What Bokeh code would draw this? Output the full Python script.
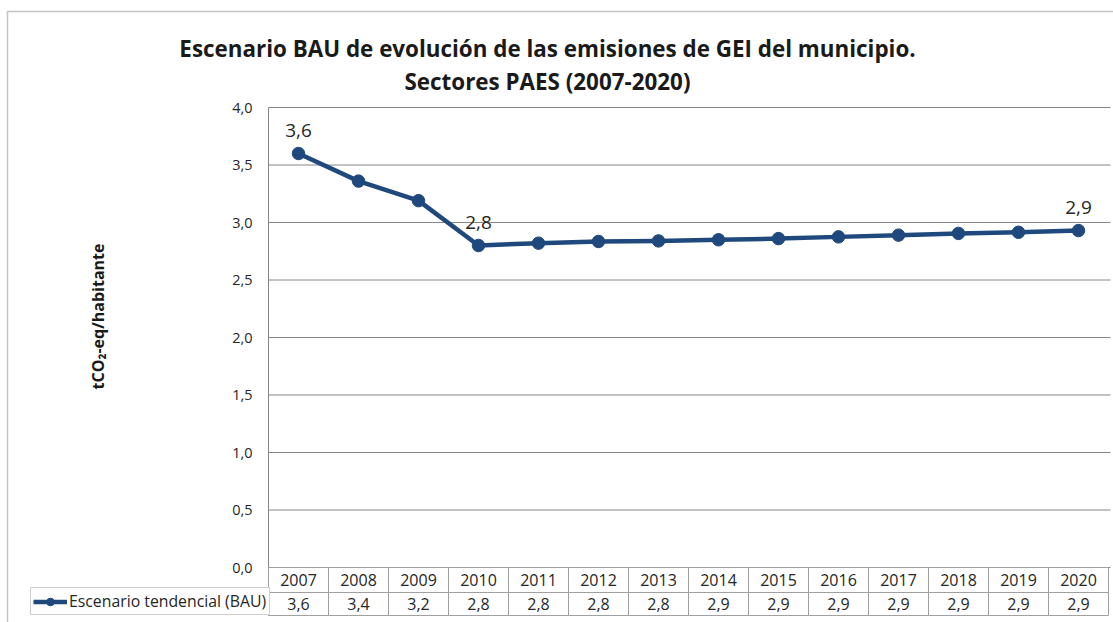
import math
from bokeh.plotting import figure
from bokeh.models import Range1d, Legend, LegendItem, PolyAnnotation
from bokeh.core.properties import value
from bokeh.embed import file_html
from bokeh.resources import INLINE

# ---------------- data ----------------
years = ["2007", "2008", "2009", "2010", "2011", "2012", "2013",
         "2014", "2015", "2016", "2017", "2018", "2019", "2020"]
bau = [3.60, 3.36, 3.19, 2.80, 2.82, 2.835, 2.84,
       2.85, 2.86, 2.875, 2.89, 2.905, 2.915, 2.93]
table_values = ["3,6", "3,4", "3,2", "2,8", "2,8", "2,8", "2,8",
                "2,9", "2,9", "2,9", "2,9", "2,9", "2,9", "2,9"]
point_labels = ["3,6", "", "", "2,8", "", "", "",
                "", "", "", "", "", "", "2,9"]
y_ticks = [0.0, 0.5, 1.0, 1.5, 2.0, 2.5, 3.0, 3.5, 4.0]
y_tick_labels = ["0,0", "0,5", "1,0", "1,5", "2,0", "2,5", "3,0", "3,5", "4,0"]
series_name = "Escenario tendencial (BAU)"
title_lines = ["Escenario BAU de evolución de las emisiones de GEI del municipio.",
               "Sectores PAES (2007-2020)"]
y_title = "tCO₂-eq/habitante"

# ---------------- style / layout ----------------
FONT = "Open Sans"
NAVY = "#1F497D"
GRID = "#868686"
CELL = "#a0a0a0"
TXT = "#262626"

W, H = 1113, 622
PX_X = 60.0      # pixels per category
PX_Y = 115.0     # pixels per y unit
LEFT = 268       # canvas x of the value axis
ZERO = 567       # canvas y of value 0
X0, X1 = -LEFT / PX_X, (W - LEFT) / PX_X
Y0, Y1 = -(H - ZERO) / PX_Y, ZERO / PX_Y

ROW_H = 25 / PX_Y          # year row height
ROW2_H = 23 / PX_Y         # value row height
n = len(years)
xs = [i + 0.5 for i in range(n)]
year_row_y = [-ROW_H / 2] * n
val_row_y = [-ROW_H - ROW2_H / 2] * n
GRID_END = (1110 - LEFT) / PX_X

p = figure(width=W, height=H, output_backend="svg", toolbar_location=None,
           x_range=Range1d(X0, X1), y_range=Range1d(Y0, Y1),
           x_axis_location=None, y_axis_location=None, title=None,
           min_border=0, outline_line_color=None,
           background_fill_color="white", border_fill_color="white")
p.xgrid.visible = False
p.ygrid.visible = False

# value axis: gridlines, axis line, tick labels
p.segment(x0=[0] * len(y_ticks), y0=y_ticks, x1=[GRID_END] * len(y_ticks), y1=y_ticks,
          line_color=GRID, line_width=1)
p.segment(x0=[0], y0=[y_ticks[-1]], x1=[0], y1=[-ROW_H - ROW2_H],
          line_color=GRID, line_width=1)
p.text([0] * len(y_ticks), y_ticks, text=y_tick_labels, x_offset=-16,
       text_align="right", text_baseline="middle", text_font=value(FONT),
       text_font_size="14.5px", text_color=TXT)

# series
line_r = p.line(xs, bau, line_width=4.5, line_color=NAVY, line_join="round")
scat_r = p.scatter(xs, bau, size=12.5, fill_color=NAVY, line_color=NAVY)

# data labels
p.text(xs, bau, text=point_labels, text_align="center", text_baseline="middle",
       y_offset=-23, text_font=value(FONT), text_font_size="19px", text_color=TXT)

# data table
p.rect(xs, year_row_y, width=1, height=ROW_H, fill_color=None,
       line_color=CELL, line_width=1)
p.rect(xs, val_row_y, width=1, height=ROW2_H, fill_color=None,
       line_color=CELL, line_width=1)
p.text(xs, year_row_y, text=years, text_align="center", text_baseline="middle",
       text_font=value(FONT), text_font_size="16px", text_color=TXT)
p.text(xs, val_row_y, text=table_values, text_align="center", text_baseline="middle",
       text_font=value(FONT), text_font_size="16px", text_color=TXT)

legend = Legend(items=[LegendItem(label=series_name, renderers=[line_r, scat_r])],
                location=(30, H - 615), orientation="vertical",
                padding=2, margin=0, spacing=0,
                glyph_width=34, glyph_height=19, label_height=19,
                label_width=198, label_standoff=2,
                border_line_color=CELL, border_line_width=1,
                background_fill_color="white", background_fill_alpha=1.0,
                label_text_font=FONT, label_text_font_size="15.8px",
                label_text_color=TXT)
p.add_layout(legend)

# chart title (two centred lines)
title_x = (547 - LEFT) / PX_X
p.text([title_x, title_x], [(ZERO - 47.5) / PX_Y, (ZERO - 81) / PX_Y], text=title_lines,
       text_align="center", text_baseline="middle", text_font=value(FONT),
       text_font_style="bold", text_font_size="22.4px", text_color="#1a1a1a")

# value-axis title
p.text([(97 - LEFT) / PX_X], [(ZERO - 316) / PX_Y], text=[y_title], angle=math.pi / 2,
       text_align="center", text_baseline="middle", text_font=value(FONT),
       text_font_style="bold", text_font_size="16px", text_color="#1a1a1a")

# outer chart border (only its top and left edges fall inside the picture)
p.add_layout(PolyAnnotation(xs=[7, 7, 3000, 3000],
                            ys=[-3000, H - 11, H - 11, -3000],
                            xs_units="screen", ys_units="screen",
                            fill_color=None, line_color="#3a3a3a", line_width=1.5))

open("out.html", "w").write(file_html(p, INLINE))
